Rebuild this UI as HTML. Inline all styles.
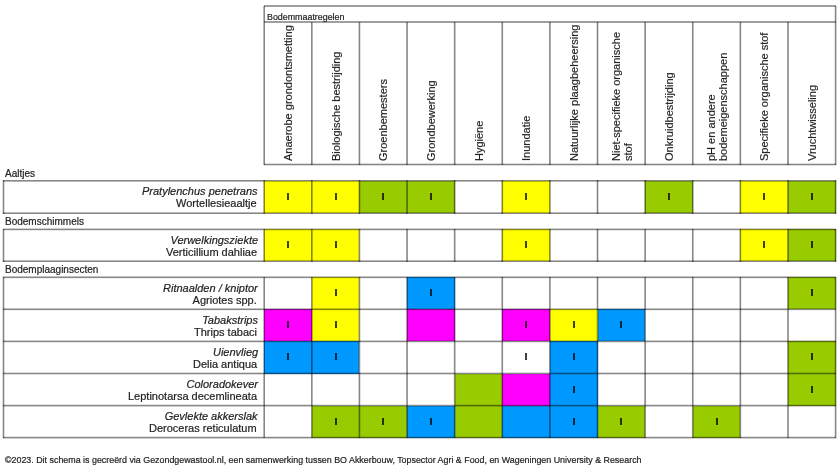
<!DOCTYPE html><html><head><meta charset="utf-8"><style>
html,body{margin:0;padding:0;background:#fff;width:840px;height:465px;overflow:hidden}
body{position:relative;font-family:"Liberation Sans",sans-serif;color:#222;-webkit-text-stroke:0.2px #222}
div{position:absolute}
.t{white-space:nowrap;line-height:0;will-change:transform}
.i{width:2px;height:7px;background:rgba(0,0,0,0.75)}
.vh{will-change:transform;transform-origin:0 0;transform:rotate(-90deg);display:flex;align-items:center;font-size:11px;line-height:11.6px;white-space:nowrap}
.vh div{position:static}
.rl{will-change:transform;text-align:right;font-size:11px;line-height:11.8px;white-space:nowrap}
.rl span{margin-right:1px}
</style></head><body>

<div class="vh" style="left:265.20px;top:164.80px;width:138.50px;height:47.62px;padding-left:4px"><div>Anaerobe grondontsmetting</div></div>
<div class="vh" style="left:312.82px;top:164.80px;width:138.50px;height:47.62px;padding-left:4px"><div>Biologische bestrijding</div></div>
<div class="vh" style="left:360.43px;top:164.80px;width:138.50px;height:47.62px;padding-left:4px"><div>Groenbemesters</div></div>
<div class="vh" style="left:408.05px;top:164.80px;width:138.50px;height:47.62px;padding-left:4px"><div>Grondbewerking</div></div>
<div class="vh" style="left:455.67px;top:164.80px;width:138.50px;height:47.62px;padding-left:4px"><div>Hygiëne</div></div>
<div class="vh" style="left:503.28px;top:164.80px;width:138.50px;height:47.62px;padding-left:4px"><div>Inundatie</div></div>
<div class="vh" style="left:550.90px;top:164.80px;width:138.50px;height:47.62px;padding-left:4px"><div>Natuurlijke plaagbeheersing</div></div>
<div class="vh" style="left:598.52px;top:164.80px;width:138.50px;height:47.62px;padding-left:4px"><div>Niet-specifieke organische<br>stof</div></div>
<div class="vh" style="left:646.13px;top:164.80px;width:138.50px;height:47.62px;padding-left:4px"><div>Onkruidbestrijding</div></div>
<div class="vh" style="left:693.75px;top:164.80px;width:138.50px;height:47.62px;padding-left:4px"><div>pH en andere<br>bodemeigenschappen</div></div>
<div class="vh" style="left:741.37px;top:164.80px;width:138.50px;height:47.62px;padding-left:4px"><div>Specifieke organische stof</div></div>
<div class="vh" style="left:788.98px;top:164.80px;width:138.50px;height:47.62px;padding-left:4px"><div>Vruchtwisseling</div></div>
<div class="t" style="left:267px;top:16.5px;font-size:8.9px">Bodemmaatregelen</div>
<div class="t" style="left:5px;top:173.50px;font-size:10px">Aaltjes</div>
<div class="t" style="left:5px;top:222.00px;font-size:10px">Bodemschimmels</div>
<div class="t" style="left:5px;top:269.50px;font-size:10px">Bodemplaaginsecten</div>
<div style="left:264px;top:181px;width:48px;height:32px;background:#ffff00"></div>
<div class="i" style="left:287.01px;top:192.80px"></div>
<div style="left:312px;top:181px;width:47px;height:32px;background:#ffff00"></div>
<div class="i" style="left:334.62px;top:192.80px"></div>
<div style="left:359px;top:181px;width:48px;height:32px;background:#99cc00"></div>
<div class="i" style="left:382.24px;top:192.80px"></div>
<div style="left:407px;top:181px;width:48px;height:32px;background:#99cc00"></div>
<div class="i" style="left:429.86px;top:192.80px"></div>
<div style="left:502px;top:181px;width:48px;height:32px;background:#ffff00"></div>
<div class="i" style="left:525.09px;top:192.80px"></div>
<div style="left:645px;top:181px;width:48px;height:32px;background:#99cc00"></div>
<div class="i" style="left:667.94px;top:192.80px"></div>
<div style="left:740px;top:181px;width:48px;height:32px;background:#ffff00"></div>
<div class="i" style="left:763.18px;top:192.80px"></div>
<div style="left:788px;top:181px;width:48px;height:32px;background:#99cc00"></div>
<div class="i" style="left:810.79px;top:192.80px"></div>
<div class="rl" style="right:582.00px;top:186.00px"><i>Pratylenchus penetrans</i><br><span>Wortellesieaaltje</span></div>
<div style="left:264px;top:229px;width:48px;height:32px;background:#ffff00"></div>
<div class="i" style="left:287.01px;top:241.40px"></div>
<div style="left:312px;top:229px;width:47px;height:32px;background:#ffff00"></div>
<div class="i" style="left:334.62px;top:241.40px"></div>
<div style="left:502px;top:229px;width:48px;height:32px;background:#ffff00"></div>
<div class="i" style="left:525.09px;top:241.40px"></div>
<div style="left:740px;top:229px;width:48px;height:32px;background:#ffff00"></div>
<div class="i" style="left:763.18px;top:241.40px"></div>
<div style="left:788px;top:229px;width:48px;height:32px;background:#99cc00"></div>
<div class="i" style="left:810.79px;top:241.40px"></div>
<div class="rl" style="right:582.00px;top:234.60px"><i>Verwelkingsziekte</i><br><span>Verticillium dahliae</span></div>
<div style="left:312px;top:277px;width:47px;height:32px;background:#ffff00"></div>
<div class="i" style="left:334.62px;top:289.30px"></div>
<div style="left:407px;top:277px;width:48px;height:32px;background:#0099ff"></div>
<div class="i" style="left:429.86px;top:289.30px"></div>
<div style="left:788px;top:277px;width:48px;height:32px;background:#99cc00"></div>
<div class="i" style="left:810.79px;top:289.30px"></div>
<div class="rl" style="right:582.00px;top:282.50px"><i>Ritnaalden / kniptor</i><br><span>Agriotes spp.</span></div>
<div style="left:264px;top:309px;width:48px;height:32px;background:#ff00ff"></div>
<div class="i" style="left:287.01px;top:321.30px"></div>
<div style="left:312px;top:309px;width:47px;height:32px;background:#ffff00"></div>
<div class="i" style="left:334.62px;top:321.30px"></div>
<div style="left:407px;top:309px;width:48px;height:32px;background:#ff00ff"></div>
<div style="left:502px;top:309px;width:48px;height:32px;background:#ff00ff"></div>
<div class="i" style="left:525.09px;top:321.30px"></div>
<div style="left:550px;top:309px;width:48px;height:32px;background:#ffff00"></div>
<div class="i" style="left:572.71px;top:321.30px"></div>
<div style="left:598px;top:309px;width:47px;height:32px;background:#0099ff"></div>
<div class="i" style="left:620.33px;top:321.30px"></div>
<div class="rl" style="right:582.00px;top:314.50px"><i>Tabakstrips</i><br><span>Thrips tabaci</span></div>
<div style="left:264px;top:341px;width:48px;height:33px;background:#0099ff"></div>
<div class="i" style="left:287.01px;top:353.40px"></div>
<div style="left:312px;top:341px;width:47px;height:33px;background:#0099ff"></div>
<div class="i" style="left:334.62px;top:353.40px"></div>
<div class="i" style="left:525.09px;top:353.40px"></div>
<div style="left:550px;top:341px;width:48px;height:33px;background:#0099ff"></div>
<div class="i" style="left:572.71px;top:353.40px"></div>
<div style="left:788px;top:341px;width:48px;height:33px;background:#99cc00"></div>
<div class="i" style="left:810.79px;top:353.40px"></div>
<div class="rl" style="right:582.00px;top:346.60px"><i>Uienvlieg</i><br><span>Delia antiqua</span></div>
<div style="left:455px;top:374px;width:47px;height:32px;background:#99cc00"></div>
<div style="left:502px;top:374px;width:48px;height:32px;background:#ff00ff"></div>
<div style="left:550px;top:374px;width:48px;height:32px;background:#0099ff"></div>
<div class="i" style="left:572.71px;top:385.50px"></div>
<div style="left:788px;top:374px;width:48px;height:32px;background:#99cc00"></div>
<div class="i" style="left:810.79px;top:385.50px"></div>
<div class="rl" style="right:582.00px;top:378.70px"><i>Coloradokever</i><br><span>Leptinotarsa decemlineata</span></div>
<div style="left:312px;top:406px;width:47px;height:32px;background:#99cc00"></div>
<div class="i" style="left:334.62px;top:417.60px"></div>
<div style="left:359px;top:406px;width:48px;height:32px;background:#99cc00"></div>
<div class="i" style="left:382.24px;top:417.60px"></div>
<div style="left:407px;top:406px;width:48px;height:32px;background:#0099ff"></div>
<div class="i" style="left:429.86px;top:417.60px"></div>
<div style="left:455px;top:406px;width:47px;height:32px;background:#99cc00"></div>
<div style="left:502px;top:406px;width:48px;height:32px;background:#0099ff"></div>
<div style="left:550px;top:406px;width:48px;height:32px;background:#0099ff"></div>
<div class="i" style="left:572.71px;top:417.60px"></div>
<div style="left:598px;top:406px;width:47px;height:32px;background:#99cc00"></div>
<div class="i" style="left:620.33px;top:417.60px"></div>
<div style="left:693px;top:406px;width:47px;height:32px;background:#99cc00"></div>
<div class="i" style="left:715.56px;top:417.60px"></div>
<div class="rl" style="right:582.00px;top:410.80px"><i>Gevlekte akkerslak</i><br><span>Deroceras reticulatum</span></div>
<div style="left:264px;width:572px;top:5px;height:1px;background:rgba(0,0,0,0.376)"></div>
<div style="left:264px;width:572px;top:6px;height:1px;background:rgba(0,0,0,0.376)"></div>
<div style="left:264px;width:572px;top:21px;height:1px;background:rgba(0,0,0,0.376)"></div>
<div style="left:264px;width:572px;top:22px;height:1px;background:rgba(0,0,0,0.376)"></div>
<div style="left:264px;width:572px;top:163px;height:1px;background:rgba(0,0,0,0.141)"></div>
<div style="left:264px;width:572px;top:164px;height:1px;background:rgba(0,0,0,0.470)"></div>
<div style="left:264px;width:572px;top:165px;height:1px;background:rgba(0,0,0,0.141)"></div>
<div style="left:263px;width:1px;top:6px;height:159px;background:rgba(0,0,0,0.282)"></div>
<div style="left:264px;width:1px;top:6px;height:159px;background:rgba(0,0,0,0.470)"></div>
<div style="left:834px;width:1px;top:6px;height:159px;background:rgba(0,0,0,0.094)"></div>
<div style="left:835px;width:1px;top:6px;height:159px;background:rgba(0,0,0,0.470)"></div>
<div style="left:836px;width:1px;top:6px;height:159px;background:rgba(0,0,0,0.188)"></div>
<div style="left:311px;width:1px;top:22px;height:143px;background:rgba(0,0,0,0.462)"></div>
<div style="left:312px;width:1px;top:22px;height:143px;background:rgba(0,0,0,0.290)"></div>
<div style="left:358px;width:1px;top:22px;height:143px;background:rgba(0,0,0,0.172)"></div>
<div style="left:359px;width:1px;top:22px;height:143px;background:rgba(0,0,0,0.470)"></div>
<div style="left:360px;width:1px;top:22px;height:143px;background:rgba(0,0,0,0.110)"></div>
<div style="left:406px;width:1px;top:22px;height:143px;background:rgba(0,0,0,0.352)"></div>
<div style="left:407px;width:1px;top:22px;height:143px;background:rgba(0,0,0,0.400)"></div>
<div style="left:453px;width:1px;top:22px;height:143px;background:rgba(0,0,0,0.063)"></div>
<div style="left:454px;width:1px;top:22px;height:143px;background:rgba(0,0,0,0.470)"></div>
<div style="left:455px;width:1px;top:22px;height:143px;background:rgba(0,0,0,0.219)"></div>
<div style="left:501px;width:1px;top:22px;height:143px;background:rgba(0,0,0,0.243)"></div>
<div style="left:502px;width:1px;top:22px;height:143px;background:rgba(0,0,0,0.470)"></div>
<div style="left:503px;width:1px;top:22px;height:143px;background:rgba(0,0,0,0.039)"></div>
<div style="left:549px;width:1px;top:22px;height:143px;background:rgba(0,0,0,0.423)"></div>
<div style="left:550px;width:1px;top:22px;height:143px;background:rgba(0,0,0,0.329)"></div>
<div style="left:596px;width:1px;top:22px;height:143px;background:rgba(0,0,0,0.133)"></div>
<div style="left:597px;width:1px;top:22px;height:143px;background:rgba(0,0,0,0.470)"></div>
<div style="left:598px;width:1px;top:22px;height:143px;background:rgba(0,0,0,0.149)"></div>
<div style="left:644px;width:1px;top:22px;height:143px;background:rgba(0,0,0,0.313)"></div>
<div style="left:645px;width:1px;top:22px;height:143px;background:rgba(0,0,0,0.439)"></div>
<div style="left:691px;width:1px;top:22px;height:143px;background:rgba(0,0,0,0.023)"></div>
<div style="left:692px;width:1px;top:22px;height:143px;background:rgba(0,0,0,0.470)"></div>
<div style="left:693px;width:1px;top:22px;height:143px;background:rgba(0,0,0,0.258)"></div>
<div style="left:739px;width:1px;top:22px;height:143px;background:rgba(0,0,0,0.204)"></div>
<div style="left:740px;width:1px;top:22px;height:143px;background:rgba(0,0,0,0.470)"></div>
<div style="left:741px;width:1px;top:22px;height:143px;background:rgba(0,0,0,0.078)"></div>
<div style="left:787px;width:1px;top:22px;height:143px;background:rgba(0,0,0,0.384)"></div>
<div style="left:788px;width:1px;top:22px;height:143px;background:rgba(0,0,0,0.368)"></div>
<div style="left:3px;width:833px;top:180px;height:1px;background:rgba(0,0,0,0.470)"></div>
<div style="left:3px;width:833px;top:181px;height:1px;background:rgba(0,0,0,0.282)"></div>
<div style="left:3px;width:833px;top:212px;height:1px;background:rgba(0,0,0,0.282)"></div>
<div style="left:3px;width:833px;top:213px;height:1px;background:rgba(0,0,0,0.470)"></div>
<div style="left:3px;width:833px;top:228px;height:1px;background:rgba(0,0,0,0.188)"></div>
<div style="left:3px;width:833px;top:229px;height:1px;background:rgba(0,0,0,0.470)"></div>
<div style="left:3px;width:833px;top:230px;height:1px;background:rgba(0,0,0,0.094)"></div>
<div style="left:3px;width:833px;top:260px;height:1px;background:rgba(0,0,0,0.282)"></div>
<div style="left:3px;width:833px;top:261px;height:1px;background:rgba(0,0,0,0.470)"></div>
<div style="left:3px;width:833px;top:276px;height:1px;background:rgba(0,0,0,0.235)"></div>
<div style="left:3px;width:833px;top:277px;height:1px;background:rgba(0,0,0,0.470)"></div>
<div style="left:3px;width:833px;top:278px;height:1px;background:rgba(0,0,0,0.047)"></div>
<div style="left:3px;width:833px;top:308px;height:1px;background:rgba(0,0,0,0.235)"></div>
<div style="left:3px;width:833px;top:309px;height:1px;background:rgba(0,0,0,0.470)"></div>
<div style="left:3px;width:833px;top:310px;height:1px;background:rgba(0,0,0,0.047)"></div>
<div style="left:3px;width:833px;top:340px;height:1px;background:rgba(0,0,0,0.188)"></div>
<div style="left:3px;width:833px;top:341px;height:1px;background:rgba(0,0,0,0.470)"></div>
<div style="left:3px;width:833px;top:342px;height:1px;background:rgba(0,0,0,0.094)"></div>
<div style="left:3px;width:833px;top:372px;height:1px;background:rgba(0,0,0,0.141)"></div>
<div style="left:3px;width:833px;top:373px;height:1px;background:rgba(0,0,0,0.470)"></div>
<div style="left:3px;width:833px;top:374px;height:1px;background:rgba(0,0,0,0.141)"></div>
<div style="left:3px;width:833px;top:404px;height:1px;background:rgba(0,0,0,0.094)"></div>
<div style="left:3px;width:833px;top:405px;height:1px;background:rgba(0,0,0,0.470)"></div>
<div style="left:3px;width:833px;top:406px;height:1px;background:rgba(0,0,0,0.188)"></div>
<div style="left:3px;width:833px;top:436px;height:1px;background:rgba(0,0,0,0.094)"></div>
<div style="left:3px;width:833px;top:437px;height:1px;background:rgba(0,0,0,0.470)"></div>
<div style="left:3px;width:833px;top:438px;height:1px;background:rgba(0,0,0,0.188)"></div>
<div style="left:2px;width:1px;top:180px;height:34px;background:rgba(0,0,0,0.141)"></div>
<div style="left:3px;width:1px;top:180px;height:34px;background:rgba(0,0,0,0.470)"></div>
<div style="left:4px;width:1px;top:180px;height:34px;background:rgba(0,0,0,0.141)"></div>
<div style="left:834px;width:1px;top:180px;height:34px;background:rgba(0,0,0,0.094)"></div>
<div style="left:835px;width:1px;top:180px;height:34px;background:rgba(0,0,0,0.470)"></div>
<div style="left:836px;width:1px;top:180px;height:34px;background:rgba(0,0,0,0.188)"></div>
<div style="left:263px;width:1px;top:180px;height:34px;background:rgba(0,0,0,0.282)"></div>
<div style="left:264px;width:1px;top:180px;height:34px;background:rgba(0,0,0,0.470)"></div>
<div style="left:311px;width:1px;top:180px;height:34px;background:rgba(0,0,0,0.462)"></div>
<div style="left:312px;width:1px;top:180px;height:34px;background:rgba(0,0,0,0.290)"></div>
<div style="left:358px;width:1px;top:180px;height:34px;background:rgba(0,0,0,0.172)"></div>
<div style="left:359px;width:1px;top:180px;height:34px;background:rgba(0,0,0,0.470)"></div>
<div style="left:360px;width:1px;top:180px;height:34px;background:rgba(0,0,0,0.110)"></div>
<div style="left:406px;width:1px;top:180px;height:34px;background:rgba(0,0,0,0.352)"></div>
<div style="left:407px;width:1px;top:180px;height:34px;background:rgba(0,0,0,0.400)"></div>
<div style="left:453px;width:1px;top:180px;height:34px;background:rgba(0,0,0,0.063)"></div>
<div style="left:454px;width:1px;top:180px;height:34px;background:rgba(0,0,0,0.470)"></div>
<div style="left:455px;width:1px;top:180px;height:34px;background:rgba(0,0,0,0.219)"></div>
<div style="left:501px;width:1px;top:180px;height:34px;background:rgba(0,0,0,0.243)"></div>
<div style="left:502px;width:1px;top:180px;height:34px;background:rgba(0,0,0,0.470)"></div>
<div style="left:503px;width:1px;top:180px;height:34px;background:rgba(0,0,0,0.039)"></div>
<div style="left:549px;width:1px;top:180px;height:34px;background:rgba(0,0,0,0.423)"></div>
<div style="left:550px;width:1px;top:180px;height:34px;background:rgba(0,0,0,0.329)"></div>
<div style="left:596px;width:1px;top:180px;height:34px;background:rgba(0,0,0,0.133)"></div>
<div style="left:597px;width:1px;top:180px;height:34px;background:rgba(0,0,0,0.470)"></div>
<div style="left:598px;width:1px;top:180px;height:34px;background:rgba(0,0,0,0.149)"></div>
<div style="left:644px;width:1px;top:180px;height:34px;background:rgba(0,0,0,0.313)"></div>
<div style="left:645px;width:1px;top:180px;height:34px;background:rgba(0,0,0,0.439)"></div>
<div style="left:691px;width:1px;top:180px;height:34px;background:rgba(0,0,0,0.023)"></div>
<div style="left:692px;width:1px;top:180px;height:34px;background:rgba(0,0,0,0.470)"></div>
<div style="left:693px;width:1px;top:180px;height:34px;background:rgba(0,0,0,0.258)"></div>
<div style="left:739px;width:1px;top:180px;height:34px;background:rgba(0,0,0,0.204)"></div>
<div style="left:740px;width:1px;top:180px;height:34px;background:rgba(0,0,0,0.470)"></div>
<div style="left:741px;width:1px;top:180px;height:34px;background:rgba(0,0,0,0.078)"></div>
<div style="left:787px;width:1px;top:180px;height:34px;background:rgba(0,0,0,0.384)"></div>
<div style="left:788px;width:1px;top:180px;height:34px;background:rgba(0,0,0,0.368)"></div>
<div style="left:2px;width:1px;top:229px;height:33px;background:rgba(0,0,0,0.141)"></div>
<div style="left:3px;width:1px;top:229px;height:33px;background:rgba(0,0,0,0.470)"></div>
<div style="left:4px;width:1px;top:229px;height:33px;background:rgba(0,0,0,0.141)"></div>
<div style="left:834px;width:1px;top:229px;height:33px;background:rgba(0,0,0,0.094)"></div>
<div style="left:835px;width:1px;top:229px;height:33px;background:rgba(0,0,0,0.470)"></div>
<div style="left:836px;width:1px;top:229px;height:33px;background:rgba(0,0,0,0.188)"></div>
<div style="left:263px;width:1px;top:229px;height:33px;background:rgba(0,0,0,0.282)"></div>
<div style="left:264px;width:1px;top:229px;height:33px;background:rgba(0,0,0,0.470)"></div>
<div style="left:311px;width:1px;top:229px;height:33px;background:rgba(0,0,0,0.462)"></div>
<div style="left:312px;width:1px;top:229px;height:33px;background:rgba(0,0,0,0.290)"></div>
<div style="left:358px;width:1px;top:229px;height:33px;background:rgba(0,0,0,0.172)"></div>
<div style="left:359px;width:1px;top:229px;height:33px;background:rgba(0,0,0,0.470)"></div>
<div style="left:360px;width:1px;top:229px;height:33px;background:rgba(0,0,0,0.110)"></div>
<div style="left:406px;width:1px;top:229px;height:33px;background:rgba(0,0,0,0.352)"></div>
<div style="left:407px;width:1px;top:229px;height:33px;background:rgba(0,0,0,0.400)"></div>
<div style="left:453px;width:1px;top:229px;height:33px;background:rgba(0,0,0,0.063)"></div>
<div style="left:454px;width:1px;top:229px;height:33px;background:rgba(0,0,0,0.470)"></div>
<div style="left:455px;width:1px;top:229px;height:33px;background:rgba(0,0,0,0.219)"></div>
<div style="left:501px;width:1px;top:229px;height:33px;background:rgba(0,0,0,0.243)"></div>
<div style="left:502px;width:1px;top:229px;height:33px;background:rgba(0,0,0,0.470)"></div>
<div style="left:503px;width:1px;top:229px;height:33px;background:rgba(0,0,0,0.039)"></div>
<div style="left:549px;width:1px;top:229px;height:33px;background:rgba(0,0,0,0.423)"></div>
<div style="left:550px;width:1px;top:229px;height:33px;background:rgba(0,0,0,0.329)"></div>
<div style="left:596px;width:1px;top:229px;height:33px;background:rgba(0,0,0,0.133)"></div>
<div style="left:597px;width:1px;top:229px;height:33px;background:rgba(0,0,0,0.470)"></div>
<div style="left:598px;width:1px;top:229px;height:33px;background:rgba(0,0,0,0.149)"></div>
<div style="left:644px;width:1px;top:229px;height:33px;background:rgba(0,0,0,0.313)"></div>
<div style="left:645px;width:1px;top:229px;height:33px;background:rgba(0,0,0,0.439)"></div>
<div style="left:691px;width:1px;top:229px;height:33px;background:rgba(0,0,0,0.023)"></div>
<div style="left:692px;width:1px;top:229px;height:33px;background:rgba(0,0,0,0.470)"></div>
<div style="left:693px;width:1px;top:229px;height:33px;background:rgba(0,0,0,0.258)"></div>
<div style="left:739px;width:1px;top:229px;height:33px;background:rgba(0,0,0,0.204)"></div>
<div style="left:740px;width:1px;top:229px;height:33px;background:rgba(0,0,0,0.470)"></div>
<div style="left:741px;width:1px;top:229px;height:33px;background:rgba(0,0,0,0.078)"></div>
<div style="left:787px;width:1px;top:229px;height:33px;background:rgba(0,0,0,0.384)"></div>
<div style="left:788px;width:1px;top:229px;height:33px;background:rgba(0,0,0,0.368)"></div>
<div style="left:2px;width:1px;top:277px;height:161px;background:rgba(0,0,0,0.141)"></div>
<div style="left:3px;width:1px;top:277px;height:161px;background:rgba(0,0,0,0.470)"></div>
<div style="left:4px;width:1px;top:277px;height:161px;background:rgba(0,0,0,0.141)"></div>
<div style="left:834px;width:1px;top:277px;height:161px;background:rgba(0,0,0,0.094)"></div>
<div style="left:835px;width:1px;top:277px;height:161px;background:rgba(0,0,0,0.470)"></div>
<div style="left:836px;width:1px;top:277px;height:161px;background:rgba(0,0,0,0.188)"></div>
<div style="left:263px;width:1px;top:277px;height:161px;background:rgba(0,0,0,0.282)"></div>
<div style="left:264px;width:1px;top:277px;height:161px;background:rgba(0,0,0,0.470)"></div>
<div style="left:311px;width:1px;top:277px;height:161px;background:rgba(0,0,0,0.462)"></div>
<div style="left:312px;width:1px;top:277px;height:161px;background:rgba(0,0,0,0.290)"></div>
<div style="left:358px;width:1px;top:277px;height:161px;background:rgba(0,0,0,0.172)"></div>
<div style="left:359px;width:1px;top:277px;height:161px;background:rgba(0,0,0,0.470)"></div>
<div style="left:360px;width:1px;top:277px;height:161px;background:rgba(0,0,0,0.110)"></div>
<div style="left:406px;width:1px;top:277px;height:161px;background:rgba(0,0,0,0.352)"></div>
<div style="left:407px;width:1px;top:277px;height:161px;background:rgba(0,0,0,0.400)"></div>
<div style="left:453px;width:1px;top:277px;height:161px;background:rgba(0,0,0,0.063)"></div>
<div style="left:454px;width:1px;top:277px;height:161px;background:rgba(0,0,0,0.470)"></div>
<div style="left:455px;width:1px;top:277px;height:161px;background:rgba(0,0,0,0.219)"></div>
<div style="left:501px;width:1px;top:277px;height:161px;background:rgba(0,0,0,0.243)"></div>
<div style="left:502px;width:1px;top:277px;height:161px;background:rgba(0,0,0,0.470)"></div>
<div style="left:503px;width:1px;top:277px;height:161px;background:rgba(0,0,0,0.039)"></div>
<div style="left:549px;width:1px;top:277px;height:161px;background:rgba(0,0,0,0.423)"></div>
<div style="left:550px;width:1px;top:277px;height:161px;background:rgba(0,0,0,0.329)"></div>
<div style="left:596px;width:1px;top:277px;height:161px;background:rgba(0,0,0,0.133)"></div>
<div style="left:597px;width:1px;top:277px;height:161px;background:rgba(0,0,0,0.470)"></div>
<div style="left:598px;width:1px;top:277px;height:161px;background:rgba(0,0,0,0.149)"></div>
<div style="left:644px;width:1px;top:277px;height:161px;background:rgba(0,0,0,0.313)"></div>
<div style="left:645px;width:1px;top:277px;height:161px;background:rgba(0,0,0,0.439)"></div>
<div style="left:691px;width:1px;top:277px;height:161px;background:rgba(0,0,0,0.023)"></div>
<div style="left:692px;width:1px;top:277px;height:161px;background:rgba(0,0,0,0.470)"></div>
<div style="left:693px;width:1px;top:277px;height:161px;background:rgba(0,0,0,0.258)"></div>
<div style="left:739px;width:1px;top:277px;height:161px;background:rgba(0,0,0,0.204)"></div>
<div style="left:740px;width:1px;top:277px;height:161px;background:rgba(0,0,0,0.470)"></div>
<div style="left:741px;width:1px;top:277px;height:161px;background:rgba(0,0,0,0.078)"></div>
<div style="left:787px;width:1px;top:277px;height:161px;background:rgba(0,0,0,0.384)"></div>
<div style="left:788px;width:1px;top:277px;height:161px;background:rgba(0,0,0,0.368)"></div>
<div class="t" style="left:4.5px;top:460.45px;font-size:8.88px">©2023. Dit schema is gecreërd via Gezondgewastool.nl, een samenwerking tussen BO Akkerbouw, Topsector Agri &amp; Food, en Wageningen University &amp; Research</div>
</body></html>
